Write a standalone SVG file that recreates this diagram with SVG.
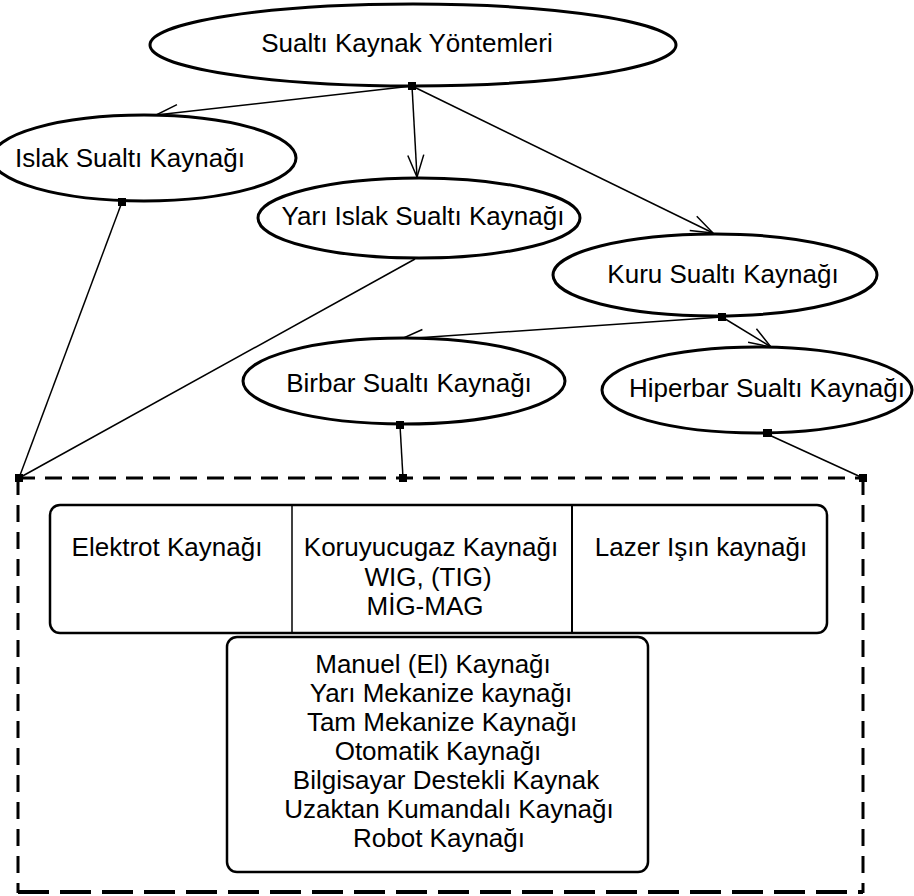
<svg xmlns="http://www.w3.org/2000/svg" width="914" height="896" viewBox="0 0 914 896">
<defs>
<style>
.el{fill:#fff;stroke:#000;stroke-width:3}
.bx{fill:#fff;stroke:#000;stroke-width:2.5}
.t{font-family:"Liberation Sans",Arial,sans-serif;font-size:26px;fill:#000;text-anchor:middle}
.c{stroke:#000;stroke-width:1.5;fill:none}
.a{marker-end:url(#arr)}
.d{fill:#000}
.dash{fill:none;stroke:#000;stroke-width:3;stroke-dasharray:17 10}
</style>
<marker id="arr" markerUnits="userSpaceOnUse" markerWidth="30" markerHeight="30" viewBox="-26 -13 30 26" refX="0" refY="0" orient="auto">
<path d="M-22,-8 L0,0 L-22,8" fill="none" stroke="#000" stroke-width="1.5"/>
</marker>
</defs>
<rect width="914" height="896" fill="#fff"/>
<g id="connectors">
<line class="c a" x1="412" y1="86" x2="156" y2="115"/>
<line class="c a" x1="412" y1="86" x2="417" y2="177"/>
<line class="c a" x1="412" y1="86" x2="713" y2="233"/>
<line class="c a" x1="722" y1="317" x2="401" y2="339"/>
<line class="c a" x1="722" y1="317" x2="771" y2="347"/>
<line class="c" x1="122" y1="202" x2="19" y2="478"/>
<line class="c" x1="415" y1="259" x2="19" y2="478"/>
<line class="c" x1="400" y1="425" x2="403" y2="478"/>
<line class="c" x1="767" y1="434" x2="863" y2="478"/>
</g>
<g id="n-root"><ellipse class="el" cx="413" cy="45" rx="263" ry="41"/><text class="t" x="407" y="52">Sualtı Kaynak Yöntemleri</text></g>
<g id="n-islak"><ellipse class="el" cx="144" cy="158" rx="152" ry="43"/><text class="t" x="130" y="167">Islak Sualtı Kaynağı</text></g>
<g id="n-yari"><ellipse class="el" cx="419" cy="218" rx="161" ry="40"/><text class="t" x="423" y="225">Yarı Islak Sualtı Kaynağı</text></g>
<g id="n-kuru"><ellipse class="el" cx="715" cy="275" rx="162" ry="41"/><text class="t" x="723" y="283">Kuru Sualtı Kaynağı</text></g>
<g id="n-birbar"><ellipse class="el" cx="404" cy="381" rx="161" ry="43"/><text class="t" x="409" y="392">Birbar Sualtı Kaynağı</text></g>
<g id="n-hiperbar"><ellipse class="el" cx="757" cy="390" rx="155" ry="43"/><text class="t" x="767" y="397">Hiperbar Sualtı Kaynağı</text></g>
<g id="n-group">
<line class="dash" x1="18" y1="478" x2="863" y2="478"/>
<line class="dash" x1="18" y1="478" x2="18" y2="893"/>
<line class="dash" x1="863" y1="478" x2="863" y2="893"/>
<line x1="18" y1="892" x2="863" y2="892" stroke="#000" stroke-width="4" stroke-dasharray="31 11"/>
</g>
<g id="n-methods">
<rect class="bx" x="50" y="505" width="777" height="128" rx="10"/>
<line x1="292" y1="505" x2="292" y2="633" stroke="#000" stroke-width="1.5"/>
<line x1="572" y1="505" x2="572" y2="633" stroke="#000" stroke-width="2"/>
<text class="t" x="167" y="556">Elektrot Kaynağı</text>
<text class="t" x="431" y="556">Koruyucugaz Kaynağı</text>
<text class="t" x="428" y="586">WIG, (TIG)</text>
<text class="t" x="425" y="615">MİG-MAG</text>
<text class="t" x="701" y="556">Lazer Işın kaynağı</text>
</g>
<g id="n-modes">
<rect class="bx" x="227" y="637" width="421" height="235" rx="10"/>
<text class="t" x="433" y="673">Manuel (El) Kaynağı</text>
<text class="t" x="441" y="702">Yarı Mekanize kaynağı</text>
<text class="t" x="442" y="731">Tam Mekanize Kaynağı</text>
<text class="t" x="438" y="760">Otomatik Kaynağı</text>
<text class="t" x="446" y="789">Bilgisayar Destekli Kaynak</text>
<text class="t" x="449" y="818">Uzaktan Kumandalı Kaynağı</text>
<text class="t" x="439" y="847">Robot Kaynağı</text>
</g>
<g id="junctions">
<rect class="d" x="408" y="82" width="8" height="8"/>
<rect class="d" x="118" y="198" width="8" height="8"/>
<rect class="d" x="718" y="313" width="8" height="8"/>
<rect class="d" x="396" y="421" width="8" height="8"/>
<rect class="d" x="763" y="429" width="9" height="8"/>
<rect class="d" x="15" y="474" width="8" height="8"/>
<rect class="d" x="399" y="474" width="8" height="8"/>
<rect class="d" x="859" y="474" width="8" height="8"/>
</g>
</svg>
